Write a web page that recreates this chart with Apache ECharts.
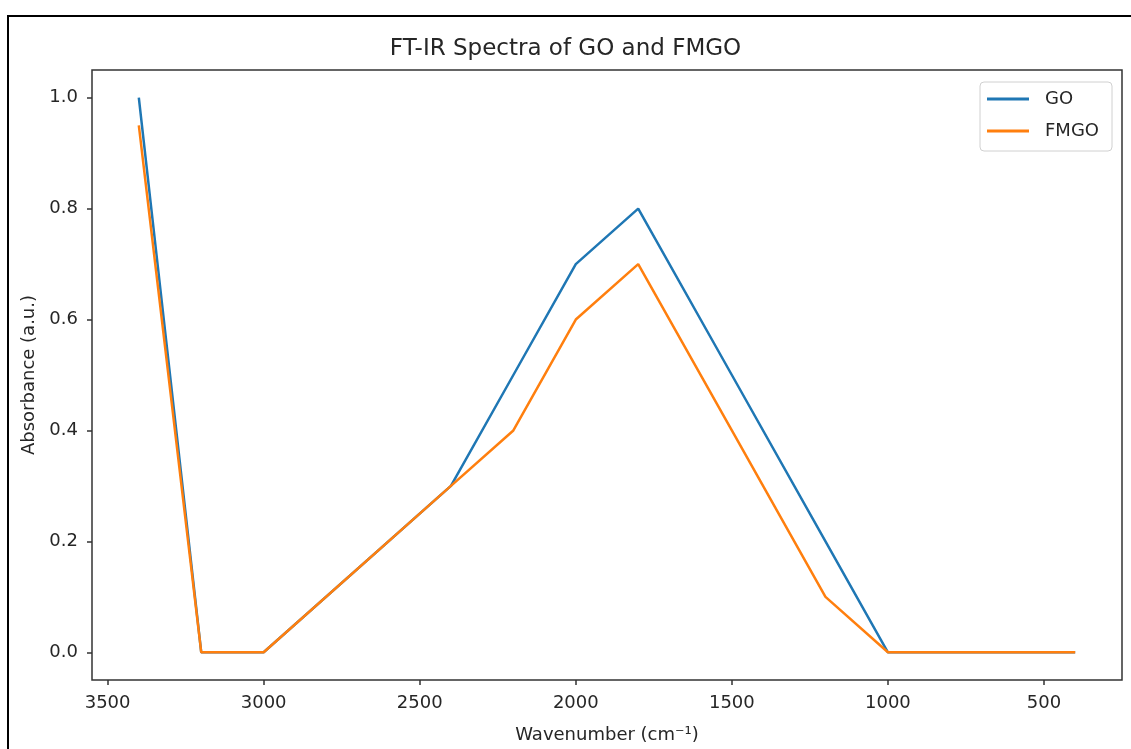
<!DOCTYPE html>
<html>
<head>
<meta charset="utf-8">
<script src="https://cdn.jsdelivr.net/npm/echarts@6/dist/echarts.min.js"></script>
<style>
  html, body { margin: 0; padding: 0; background: #fff; }
  #chart { width: 1131px; height: 749px; }
</style>
</head>
<body>
<div id="chart"></div>
<script>
// wavenumber (cm-1) and absorbance
var wavenumbers = [3400, 3200, 3000, 2400, 2200, 2000, 1800, 1500, 1200, 1000, 400];
var goValues = [1.0, 0, 0, 0.3, 0.5, 0.7, 0.8, 0.5, 0.2, 0, 0];
var fmgoValues = [0.95, 0, 0, 0.3, 0.4, 0.6, 0.7, 0.4, 0.1, 0, 0];
var xTicks = [3500, 3000, 2500, 2000, 1500, 1000, 500];
var yTicks = [0, 0.2, 0.4, 0.6, 0.8, 1.0];

var font = 'DejaVu Sans';
var textColor = '#262626';

function pairs(xs, ys) {
  return xs.map(function (x, i) { return [x, ys[i]]; });
}

var chart = echarts.init(document.getElementById('chart'));
var option = {
  animation: false,
  title: {
    text: 'FT-IR Spectra of GO and FMGO',
    left: 'center',
    top: 33,
    textStyle: { fontFamily: font, fontSize: 23, fontWeight: 'normal', color: textColor }
  },
  graphic: [{
    type: 'rect',
    silent: true,
    z: -1,
    shape: { x: 8, y: 16, width: 1200, height: 1000 },
    style: { fill: 'none', stroke: '#000', lineWidth: 2 }
  }],
  legend: {
    orient: 'vertical',
    left: 980,
    top: 82,
    padding: [7, 13, 10, 7],
    itemWidth: 42,
    itemHeight: 3,
    itemGap: 12,
    icon: 'rect',
    borderColor: '#d0d0d0',
    borderWidth: 1,
    borderRadius: 4,
    backgroundColor: '#fff',
    textStyle: { fontFamily: font, fontSize: 18, lineHeight: 20, color: textColor, padding: [0, 0, 0, 11] },
    data: ['GO', 'FMGO']
  },
  grid: {
    left: 92, right: 9, top: 70, bottom: 69,
    show: true,
    borderColor: '#333',
    borderWidth: 1.5
  },
  xAxis: {
    type: 'value',
    inverse: true,
    min: 250,
    max: 3550,
    name: 'Wavenumber (cm⁻¹)',
    nameLocation: 'middle',
    nameGap: 46,
    nameTextStyle: { fontFamily: font, fontSize: 18, color: textColor },
    axisLine: { show: false, onZero: false },
    splitLine: { show: false },
    axisTick: { show: true, length: 5, lineStyle: { color: '#333', width: 1.5 }, customValues: xTicks },
    axisLabel: {
      fontFamily: font, fontSize: 18, color: textColor, margin: 14,
      customValues: xTicks,
      formatter: function (v) { return String(v); }
    }
  },
  yAxis: {
    type: 'value',
    min: -0.05,
    max: 1.05,
    name: 'Absorbance (a.u.)',
    nameLocation: 'middle',
    nameGap: 52,
    nameTextStyle: { fontFamily: font, fontSize: 18, color: textColor },
    axisLine: { show: false, onZero: false },
    splitLine: { show: false },
    axisTick: { show: true, length: 5, lineStyle: { color: '#333', width: 1.5 }, customValues: yTicks },
    axisLabel: {
      fontFamily: font, fontSize: 18, color: textColor, margin: 14,
      customValues: yTicks,
      formatter: function (v) { return v.toFixed(1); }
    }
  },
  series: [
    {
      name: 'GO',
      type: 'line',
      symbol: 'none',
      color: '#1f77b4',
      lineStyle: { width: 2.5 },
      data: pairs(wavenumbers, goValues)
    },
    {
      name: 'FMGO',
      type: 'line',
      symbol: 'none',
      color: '#ff7f0e',
      lineStyle: { width: 2.5 },
      data: pairs(wavenumbers, fmgoValues)
    }
  ]
};
chart.setOption(option);
</script>
</body>
</html>
